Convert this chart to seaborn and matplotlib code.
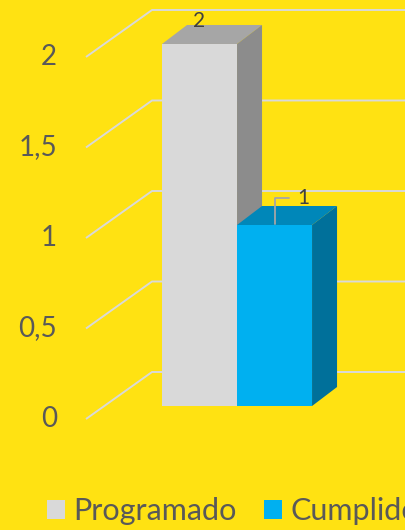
import pandas as pd
import seaborn as sns
import matplotlib.pyplot as plt
from matplotlib.patches import Polygon, Patch

# datos del grafico
grupos = ['']
series = ['Programado', 'Cumplido']
valores = [2, 1]
marcas_y = [0, 0.5, 1, 1.5, 2]
etiquetas_y = ['0', '0,5', '1', '1,5', '2']

# colores
fondo = '#FFE212'
texto = '#595959'
rejilla = '#D9D9D9'
color_frente = ['#D9D9D9', '#00B0F0']
color_tapa = ['#A6A6A6', '#0087B9']
color_lado = ['#8C8C8C', '#00709A']

sns.set_theme(style='white')
plt.rcParams['font.family'] = ['Lato', 'DejaVu Sans']

df = pd.DataFrame({'grupo': grupos * len(series), 'serie': series, 'valor': valores})

fig = plt.figure(figsize=(4.06, 5.30), dpi=100, facecolor=fondo)
ax = fig.add_axes([0, 0, 1, 1])
ax.set_facecolor(fondo)

sns.barplot(data=df, x='grupo', y='valor', hue='serie', palette=color_frente,
            width=0.8, saturation=1, legend=False, ax=ax)
barras = list(ax.patches)

x0, x1 = -1.264, 0.901
y0, y1 = -0.685, 2.243
ax.set_xlim(x0, x1)
ax.set_ylim(y0, y1)
ax.axis('off')

# pixeles por unidad (para el efecto 3D)
px_x = 406 / (x1 - x0)
px_y = 530 / (y1 - y0)
fx, fy = 18 / px_x, 13 / px_y      # delante de las barras
bx, by = 48 / px_x, 34 / px_y      # pared del fondo
dx, dy = 25 / px_x, 19 / px_y      # profundidad de la barra
pared = x0 + 104 / px_x

# rejilla: pared lateral y pared del fondo
for v, lab in zip(marcas_y, etiquetas_y):
    ax.plot([pared - fx, pared + bx, x1 + 1], [v - fy, v + by, v + by],
            color=rejilla, lw=1.4, zorder=0.5, solid_capstyle='butt')
    ax.text(pared - fx - 29 / px_x, v - fy, lab, ha='right', va='center',
            fontsize=20, color=texto)

# caras de las barras
for i, b in enumerate(barras):
    b.set_zorder(2 + i)
    b.set_edgecolor('none')
    xa, w, h = b.get_x(), b.get_width(), b.get_height()
    xb = xa + w
    tapa = Polygon([(xa, h), (xb, h), (xb + dx, h + dy), (xa + dx, h + dy)],
                   closed=True, facecolor=color_tapa[i], edgecolor='none', zorder=2 + i)
    lado = Polygon([(xb, 0), (xb + dx, dy), (xb + dx, h + dy), (xb, h)],
                   closed=True, facecolor=color_lado[i], edgecolor='none', zorder=2 + i)
    ax.add_patch(tapa)
    ax.add_patch(lado)

# etiquetas de datos
g = barras[0]
ax.text(g.get_x() + g.get_width() / 2, g.get_height() + 17 / px_y, str(valores[0]),
        ha='center', va='baseline', fontsize=15, color='#404040', zorder=10)
c = barras[1]
cx = c.get_x() + c.get_width() / 2
ax.annotate(str(valores[1]), xy=(cx, c.get_height()),
            xytext=(cx + 29 / px_x, c.get_height() + 27 / px_y),
            ha='center', va='center', fontsize=15, color='#404040', zorder=10,
            arrowprops=dict(arrowstyle='-', color='#A6A6A6', lw=1.3,
                            connectionstyle='angle,angleA=0,angleB=90,rad=0',
                            shrinkA=4, shrinkB=1))

# leyenda
manejadores = [Patch(facecolor=color_frente[i], edgecolor='none', label=s)
               for i, s in enumerate(series)]
ax.legend(handles=manejadores, loc='center left', bbox_to_anchor=(47 / 406, 19 / 530),
          bbox_transform=fig.transFigure, ncol=2, frameon=False, fontsize=22,
          handlelength=0.59, handleheight=0.59, handletextpad=0.26,
          columnspacing=0.92, borderpad=0, borderaxespad=0, labelcolor=texto)

fig.savefig('out.png', dpi=100, facecolor=fondo)
